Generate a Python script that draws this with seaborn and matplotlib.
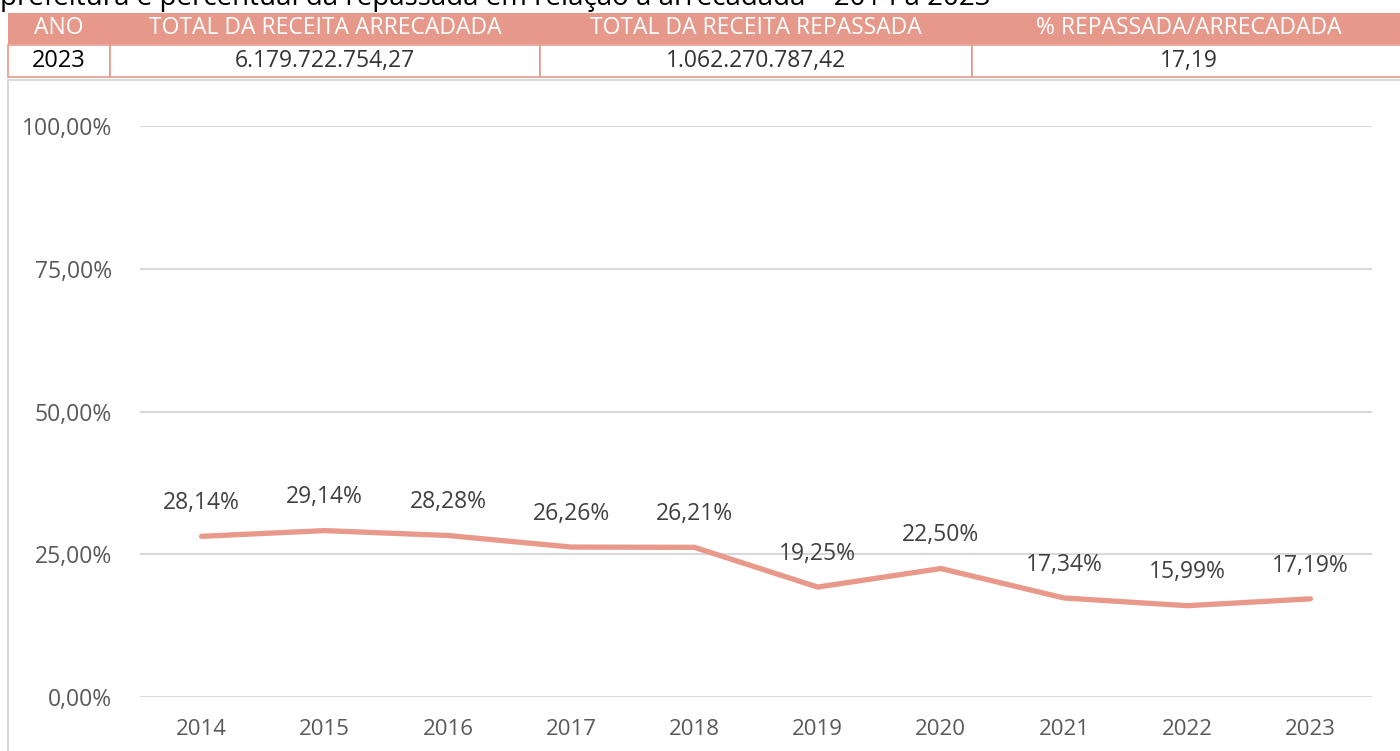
import matplotlib
matplotlib.use("Agg")
import matplotlib.pyplot as plt
import seaborn as sns
import pandas as pd
from matplotlib.patches import Rectangle
from matplotlib.lines import Line2D

anos = ["2014", "2015", "2016", "2017", "2018", "2019", "2020", "2021", "2022", "2023"]
percentual = [28.14, 29.14, 28.28, 26.26, 26.21, 19.25, 22.50, 17.34, 15.99, 17.19]
rotulos = ["28,14%", "29,14%", "28,28%", "26,26%", "26,21%", "19,25%", "22,50%", "17,34%", "15,99%", "17,19%"]
y_ticks = [0, 25, 50, 75, 100]
y_ticklabels = ["0,00%", "25,00%", "50,00%", "75,00%", "100,00%"]

tab_cabecalho = ["ANO", "TOTAL DA RECEITA ARRECADADA", "TOTAL DA RECEITA REPASSADA", "% REPASSADA/ARRECADADA"]
tab_valores = ["2023", "6.179.722.754,27", "1.062.270.787,42", "17,19"]
titulo = "prefeitura e percentual da repassada em relação à arrecadada – 2014 a 2023"

cor_linha = "#E8998A"
cor_tab = "#E6998A"
cinza = "#595959"

sns.set_style("white")
plt.rcParams['font.family'] = ['Open Sans', 'DejaVu Sans']

df = pd.DataFrame({"ano": anos, "pct": percentual})

W, H = 1400, 751
fig = plt.figure(figsize=(14, 7.51), dpi=100)

def fx(px):
    return px / W

def fy(py):
    return 1 - py / H

# titulo cortado no topo (so a parte de baixo aparece)
fig.text(0.0, fy(5), titulo, fontsize=20, color="black", va="baseline", ha="left")

# tabela de resumo
col_x = [8, 110, 540, 972, 1405]
for i in range(4):
    x0, x1 = col_x[i], col_x[i + 1]
    fig.patches.append(Rectangle((fx(x0), fy(44)), fx(x1 - x0), 31 / H, transform=fig.transFigure,
                                 facecolor=cor_tab, edgecolor="none"))
    fig.patches.append(Rectangle((fx(x0), fy(77)), fx(x1 - x0), 32 / H, transform=fig.transFigure,
                                 facecolor="white", edgecolor=cor_tab, linewidth=1.2))
    fig.text(fx((x0 + x1) / 2), fy(28), tab_cabecalho[i], color="white", fontsize=16.5,
             ha="center", va="center")
    fig.text(fx((x0 + x1) / 2), fy(61), tab_valores[i], color="black" if i == 0 else "#333333",
             fontsize=17 if i == 0 else 16.5, ha="center", va="center")

# moldura do grafico
fig.lines.append(Line2D([fx(8), fx(8)], [fy(80), 0], transform=fig.transFigure, color="#D9D9D9", lw=1.5))
fig.lines.append(Line2D([fx(8), 1], [fy(80), fy(80)], transform=fig.transFigure, color="#D9D9D9", lw=1.5))

ax = fig.add_axes([fx(140), fy(697), fx(1372 - 140), (697 - 126) / H])
sns.lineplot(data=df, x="ano", y="pct", ax=ax, color=cor_linha, linewidth=3.8,
             solid_capstyle="round", solid_joinstyle="round")

for i, (v, r) in enumerate(zip(percentual, rotulos)):
    ax.annotate(r, (i, v), xytext=(0, 24), textcoords="offset points", ha="center", va="center",
                fontsize=16.5, color="#404040")

ax.set_ylim(0, 100)
ax.set_xlim(-0.5, len(anos) - 0.5)
ax.set_yticks(y_ticks)
ax.set_yticklabels(y_ticklabels)
ax.grid(axis="y", color="#D9D9D9", linewidth=1.5)
ax.set_axisbelow(True)
ax.tick_params(axis="y", length=0, pad=20, labelsize=16.5, labelcolor=cinza)
ax.tick_params(axis="x", length=0, pad=16, labelsize=16, labelcolor=cinza)
ax.set_xlabel("")
ax.set_ylabel("")
for s in ax.spines.values():
    s.set_visible(False)

fig.savefig("out.png", dpi=100)
